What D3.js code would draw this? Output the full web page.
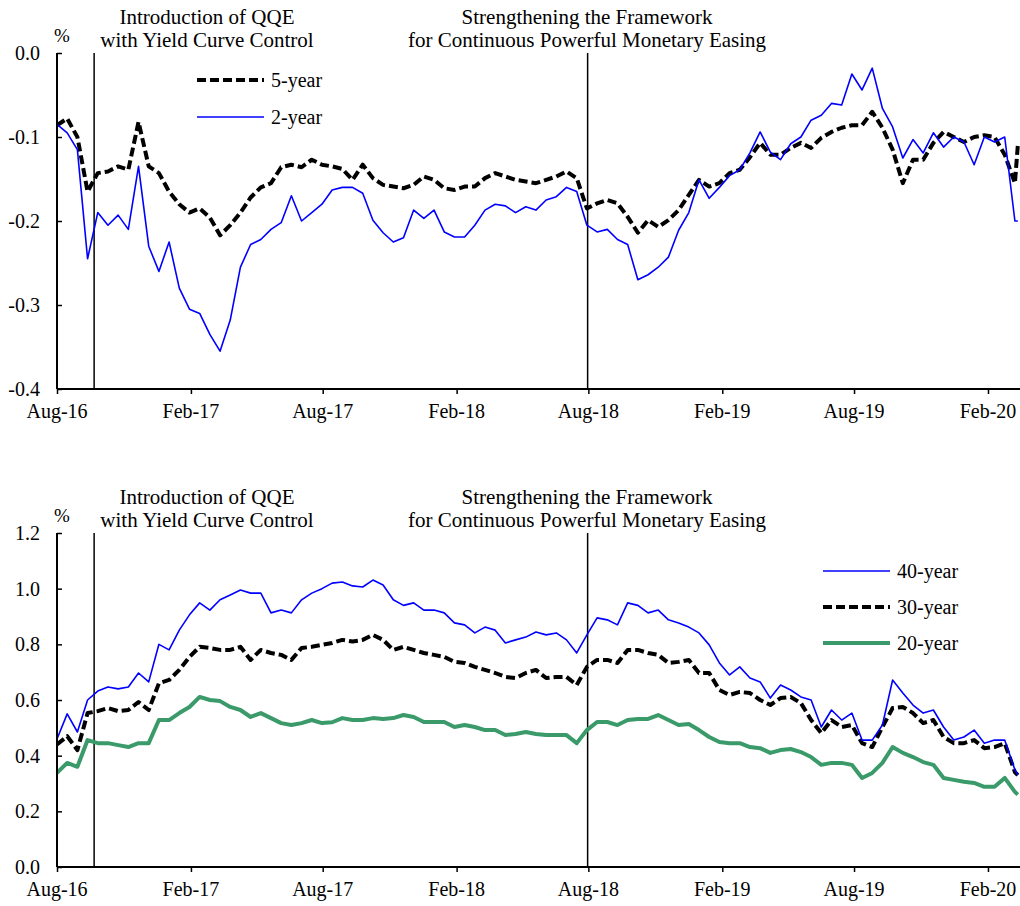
<!DOCTYPE html>
<html>
<head>
<meta charset="utf-8">
<script src="https://cdn.jsdelivr.net/npm/d3@7/dist/d3.min.js"></script>
<style>
  body { margin: 0; background: #fff; }
  svg text { font-family: "Liberation Serif", "Times New Roman", serif; fill: #000; }
</style>
</head>
<body>
<svg id="chart" width="1020" height="906"></svg>
<script>
// ------- data (one value every two weeks) -------
const startDate = new Date(2016, 7, 1);
const dates = d3.range(95).map(i => d3.timeDay.offset(startDate, 14 * i))
    .concat([new Date(2020, 2, 13)]);

const tickDates = ["2016-08-01", "2017-02-01", "2017-08-01", "2018-02-01",
                   "2018-08-01", "2019-02-01", "2019-08-01", "2020-02-01"];
const eventDates = ["2016-09-21", "2018-07-31"];
const eventLabels = [
    ["Introduction of QQE", "with Yield Curve Control"],
    ["Strengthening the Framework", "for Continuous Powerful Monetary Easing"]
];

const twoYear = [
    -0.085, -0.095, -0.115, -0.245, -0.19, -0.205, -0.193, -0.21, -0.135, -0.23,
    -0.26, -0.225, -0.28, -0.305, -0.31, -0.335, -0.355, -0.318, -0.255, -0.228,
    -0.222, -0.21, -0.202, -0.17, -0.2, -0.19, -0.18, -0.163, -0.16, -0.16,
    -0.167, -0.199, -0.214, -0.225, -0.22, -0.187, -0.197, -0.187, -0.213, -0.219,
    -0.219, -0.205, -0.187, -0.18, -0.182, -0.19, -0.183, -0.187, -0.175, -0.171,
    -0.16, -0.165, -0.205, -0.213, -0.21, -0.222, -0.228, -0.27, -0.264, -0.255,
    -0.243, -0.211, -0.19, -0.151, -0.173, -0.16, -0.146, -0.139, -0.119, -0.094,
    -0.118, -0.127, -0.108, -0.1, -0.08, -0.074, -0.06, -0.062, -0.025, -0.044,
    -0.018, -0.066, -0.088, -0.125, -0.103, -0.119, -0.095, -0.112, -0.1, -0.106,
    -0.133, -0.1, -0.106, -0.1, -0.2, -0.2
];
const fiveYear = [
    -0.086, -0.078, -0.1, -0.165, -0.143, -0.141, -0.135, -0.139, -0.082, -0.135,
    -0.143, -0.165, -0.18, -0.19, -0.185, -0.196, -0.217, -0.205, -0.19, -0.172,
    -0.16, -0.155, -0.136, -0.133, -0.136, -0.127, -0.133, -0.135, -0.138, -0.151,
    -0.133, -0.149, -0.157, -0.159, -0.161, -0.157, -0.147, -0.151, -0.161, -0.163,
    -0.159, -0.159, -0.149, -0.143, -0.147, -0.151, -0.153, -0.155, -0.151, -0.147,
    -0.141, -0.149, -0.185, -0.179, -0.175, -0.179, -0.195, -0.214, -0.199, -0.207,
    -0.199, -0.187, -0.169, -0.151, -0.159, -0.155, -0.143, -0.139, -0.124, -0.107,
    -0.121, -0.121, -0.113, -0.107, -0.113, -0.101, -0.094, -0.089, -0.086, -0.086,
    -0.07, -0.089, -0.115, -0.155, -0.127, -0.127, -0.107, -0.094, -0.1, -0.106,
    -0.1, -0.098, -0.1, -0.121, -0.155, -0.11
];
const fortyYear = [
    0.46, 0.55, 0.485, 0.6, 0.632, 0.647, 0.64, 0.647, 0.697, 0.665,
    0.8, 0.78, 0.851, 0.906, 0.949, 0.923, 0.96, 0.977, 0.995, 0.984,
    0.984, 0.913, 0.923, 0.913, 0.96, 0.984, 1.0, 1.02, 1.024, 1.01,
    1.006, 1.031, 1.013, 0.96, 0.94, 0.949, 0.923, 0.923, 0.913, 0.877,
    0.87, 0.841, 0.862, 0.851, 0.805, 0.816, 0.826, 0.844, 0.834, 0.841,
    0.816, 0.769, 0.834, 0.895, 0.888, 0.87, 0.949, 0.94, 0.913, 0.923,
    0.888, 0.877, 0.862, 0.841, 0.798, 0.733, 0.69, 0.719, 0.679, 0.665,
    0.607, 0.654, 0.636, 0.611, 0.6, 0.503, 0.564, 0.528, 0.553, 0.456,
    0.456, 0.51, 0.672, 0.625, 0.582, 0.553, 0.564, 0.503, 0.456, 0.467,
    0.492, 0.445, 0.456, 0.456, 0.349, 0.33
];
const thirtyYear = [
    0.44, 0.47, 0.42, 0.553, 0.56, 0.571, 0.56, 0.564, 0.593, 0.564,
    0.66, 0.672, 0.708, 0.755, 0.791, 0.787, 0.78, 0.78, 0.791, 0.744,
    0.78, 0.769, 0.762, 0.744, 0.787, 0.791, 0.798, 0.805, 0.816, 0.81,
    0.816, 0.834, 0.816, 0.78, 0.791, 0.78, 0.769, 0.762, 0.755, 0.737,
    0.733, 0.719, 0.708, 0.697, 0.683, 0.679, 0.697, 0.708, 0.679, 0.683,
    0.683, 0.654, 0.719, 0.744, 0.744, 0.733, 0.78, 0.78, 0.769, 0.762,
    0.733, 0.737, 0.744, 0.697, 0.697, 0.636, 0.618, 0.629, 0.625, 0.6,
    0.582, 0.607, 0.611, 0.589, 0.528, 0.481, 0.528, 0.503, 0.51, 0.445,
    0.431, 0.503, 0.571, 0.575, 0.553, 0.517, 0.528, 0.467, 0.445, 0.445,
    0.456, 0.427, 0.431, 0.445, 0.341, 0.33
];
const twentyYear = [
    0.338, 0.374, 0.36, 0.456, 0.445, 0.445, 0.438, 0.431, 0.445, 0.445,
    0.528, 0.528, 0.553, 0.575, 0.611, 0.6, 0.596, 0.575, 0.564, 0.539,
    0.553, 0.535, 0.517, 0.51, 0.517, 0.528, 0.517, 0.52, 0.535, 0.528,
    0.528, 0.535, 0.532, 0.535, 0.546, 0.539, 0.521, 0.521, 0.521, 0.503,
    0.51, 0.503, 0.492, 0.492, 0.474, 0.478, 0.485, 0.478, 0.474, 0.474,
    0.474, 0.445, 0.492, 0.521, 0.521, 0.51, 0.528, 0.532, 0.532, 0.546,
    0.528, 0.51, 0.514, 0.492, 0.467, 0.449, 0.445, 0.445, 0.431, 0.427,
    0.41, 0.42, 0.424, 0.413, 0.395, 0.367, 0.374, 0.374, 0.367, 0.32,
    0.338, 0.374, 0.431, 0.41, 0.395, 0.377, 0.367, 0.32, 0.313, 0.306,
    0.302, 0.288, 0.288, 0.32, 0.27, 0.26
];

const topTicks = [0.0, -0.1, -0.2, -0.3, -0.4];
const bottomTicks = [0.0, 0.2, 0.4, 0.6, 0.8, 1.0, 1.2];

// ------- drawing -------
const svg = d3.select("#chart");
const parse = d3.timeParse("%Y-%m-%d");
const x = d3.scaleTime()
    .domain([startDate, new Date(2020, 2, 16)])
    .range([57, 1020]);

const styles = {
    blue:  { stroke: "#0000ff", width: 1.6, dash: null },
    black: { stroke: "#000000", width: 4, dash: "9,4" },
    green: { stroke: "#3a9a69", width: 4, dash: null }
};

function drawPanel(p) {
    const y = d3.scaleLinear().domain(p.domain).range([p.bottom, p.top]);
    const g = svg.append("g");

    // event lines
    eventDates.forEach(function (d) {
        g.append("line")
            .attr("x1", x(parse(d))).attr("x2", x(parse(d)))
            .attr("y1", p.top).attr("y2", p.bottom)
            .attr("stroke", "#000").attr("stroke-width", 1.5);
    });

    // series
    const line = d3.line()
        .x((d, i) => x(dates[i]))
        .y(d => y(d));
    p.series.forEach(function (s) {
        const st = styles[s.style];
        g.append("path")
            .datum(s.values)
            .attr("d", line)
            .attr("fill", "none")
            .attr("stroke", st.stroke)
            .attr("stroke-width", st.width)
            .attr("stroke-dasharray", st.dash)
            .attr("stroke-linejoin", "round");
    });

    // y axis, ticks pointing inward
    const yAxis = g.append("g")
        .attr("transform", "translate(57,0)")
        .call(d3.axisRight(y).tickValues(p.ticks).tickSize(5).tickFormat(""));
    yAxis.select(".domain").remove();
    yAxis.selectAll("line").attr("stroke-width", 1.5);
    g.append("line")
        .attr("x1", 57).attr("x2", 57).attr("y1", p.top).attr("y2", p.bottom)
        .attr("stroke", "#000").attr("stroke-width", 2);
    g.selectAll(".ylab")
        .data(p.ticks)
        .enter()
        .append("text")
        .attr("x", 40)
        .attr("y", d => y(d))
        .attr("dy", "0.35em")
        .attr("text-anchor", "end")
        .style("font-size", "20px")
        .text(d => d.toFixed(1));

    // x axis, ticks pointing down
    const xAxis = g.append("g")
        .attr("transform", "translate(0," + p.bottom + ")")
        .call(d3.axisBottom(x).tickValues(tickDates.map(parse)).tickSize(5).tickFormat(""));
    xAxis.select(".domain").remove();
    xAxis.selectAll("line").attr("stroke-width", 1.5);
    g.append("line")
        .attr("x1", 57).attr("x2", 1020).attr("y1", p.bottom).attr("y2", p.bottom)
        .attr("stroke", "#000").attr("stroke-width", 2);
    g.selectAll(".xlab")
        .data(tickDates)
        .enter()
        .append("text")
        .attr("x", d => x(parse(d)))
        .attr("y", p.bottom + 29)
        .attr("text-anchor", "middle")
        .style("font-size", "20px")
        .text(d => d3.timeFormat("%b-%y")(parse(d)));

    // unit
    g.append("text")
        .attr("x", 62).attr("y", p.top - 11)
        .attr("text-anchor", "middle")
        .style("font-size", "19px")
        .text("%");

    // event annotations
    const labelX = [207, 587];
    eventLabels.forEach(function (lines, k) {
        lines.forEach(function (t, j) {
            g.append("text")
                .attr("x", labelX[k])
                .attr("y", p.top - 29 + j * 23)
                .attr("text-anchor", "middle")
                .style("font-size", "21px")
                .text(t);
        });
    });

    // legend
    p.legend.forEach(function (s, k) {
        const st = styles[s.style];
        const ly = p.legendY + k * p.legendStep;
        g.append("line")
            .attr("x1", p.legendX).attr("x2", p.legendX + 67)
            .attr("y1", ly).attr("y2", ly)
            .attr("stroke", st.stroke)
            .attr("stroke-width", st.width)
            .attr("stroke-dasharray", st.dash);
        g.append("text")
            .attr("x", p.legendX + 74)
            .attr("y", ly)
            .attr("dy", "0.35em")
            .style("font-size", "20px")
            .text(s.name);
    });
}

drawPanel({
    top: 53, bottom: 389, domain: [-0.4, 0.0], ticks: topTicks,
    series: [
        { name: "5-year", style: "black", values: fiveYear },
        { name: "2-year", style: "blue", values: twoYear }
    ],
    legend: [
        { name: "5-year", style: "black" },
        { name: "2-year", style: "blue" }
    ],
    legendX: 197, legendY: 80, legendStep: 37
});

drawPanel({
    top: 533, bottom: 867, domain: [0.0, 1.2], ticks: bottomTicks,
    series: [
        { name: "20-year", style: "green", values: twentyYear },
        { name: "30-year", style: "black", values: thirtyYear },
        { name: "40-year", style: "blue", values: fortyYear }
    ],
    legend: [
        { name: "40-year", style: "blue" },
        { name: "30-year", style: "black" },
        { name: "20-year", style: "green" }
    ],
    legendX: 823, legendY: 571, legendStep: 36
});
</script>
</body>
</html>
